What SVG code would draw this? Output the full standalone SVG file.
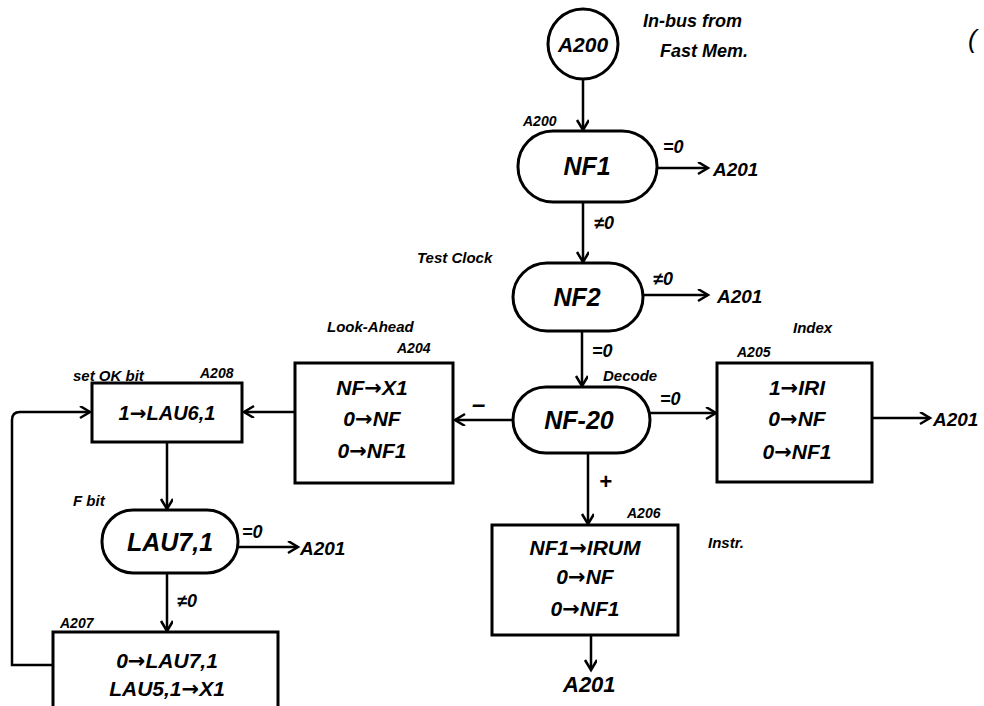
<svg xmlns="http://www.w3.org/2000/svg" width="984" height="706" viewBox="0 0 984 706">
<defs>
<marker id="ah" markerWidth="14" markerHeight="14" refX="11" refY="6" orient="auto" markerUnits="userSpaceOnUse">
<path d="M1,0 L11,6 L1,12" fill="none" stroke="#000" stroke-width="2.5"/>
</marker>
<style>
.shape{fill:#fff;stroke:#000;stroke-width:3}
.ln{fill:none;stroke:#000;stroke-width:2.5;marker-end:url(#ah)}
text{font-family:"Liberation Sans","DejaVu Sans",sans-serif;font-style:italic;font-weight:bold;fill:#000}
.ar{font-family:"DejaVu Sans",sans-serif;font-style:normal;font-weight:bold}
.big{font-size:25px;text-anchor:middle}
.mid{font-size:21px;text-anchor:middle}
.tgt{font-size:19px}
.sm{font-size:14px}
.note{font-size:15px}
.cond{font-size:18px}
</style>
</defs>

<rect width="984" height="706" fill="#fff"/>

<g id="connectors">
<line class="ln" x1="583" y1="80" x2="583" y2="130"/>
<line class="ln" x1="657" y1="168" x2="708" y2="168"/>
<line class="ln" x1="583" y1="202" x2="583" y2="262"/>
<line class="ln" x1="643" y1="295" x2="708" y2="295"/>
<line class="ln" x1="582" y1="331" x2="582" y2="386"/>
<line class="ln" x1="650" y1="413" x2="716" y2="413"/>
<line class="ln" x1="872" y1="418" x2="930" y2="418"/>
<line class="ln" x1="513" y1="420" x2="455" y2="420"/>
<line class="ln" x1="588" y1="453" x2="588" y2="524"/>
<line class="ln" x1="591" y1="635" x2="591" y2="670"/>
<line class="ln" x1="295" y1="412" x2="244" y2="412"/>
<line class="ln" x1="167" y1="442" x2="167" y2="509"/>
<line class="ln" x1="238" y1="547" x2="298" y2="547"/>
<line class="ln" x1="167" y1="573" x2="167" y2="631"/>
<path class="ln" d="M53,665 L12,665 L12,420 Q12,412 20,412 L90,412"/>
</g>

<g id="A200">
<circle class="shape" cx="583" cy="44" r="35"/>
<text class="mid" x="583" y="52">A200</text>
</g>
<text x="643" y="27" style="font-size:18px">In-bus from</text>
<text x="660" y="57" style="font-size:18px">Fast Mem.</text>
<text x="968" y="48" style="font-size:26px;font-weight:normal">(</text>

<text class="sm" x="523" y="126">A200</text>
<g id="NF1">
<rect class="shape" x="518" y="131" width="139" height="71" rx="35"/>
<text class="big" x="587" y="175">NF1</text>
</g>
<text class="cond" x="663" y="153">=0</text>
<text class="tgt" x="713" y="176">A201</text>
<text class="cond" x="594" y="229">≠0</text>

<text class="note" x="417" y="263">Test Clock</text>
<g id="NF2">
<rect class="shape" x="513" y="263" width="130" height="68" rx="34"/>
<text class="big" x="577" y="306">NF2</text>
</g>
<text class="cond" x="653" y="285">≠0</text>
<text class="tgt" x="717" y="303">A201</text>
<text class="cond" x="592" y="357">=0</text>
<text class="note" x="603" y="381">Decode</text>

<g id="NF-20">
<rect class="shape" x="513" y="387" width="137" height="66" rx="33"/>
<text class="big" x="579" y="429">NF-20</text>
</g>
<text class="cond" x="660" y="405">=0</text>
<text x="472" y="412" style="font-size:24px">–</text>
<text x="599" y="489" style="font-size:22px">+</text>

<text class="note" x="793" y="333">Index</text>
<text class="sm" x="737" y="357">A205</text>
<g id="A205">
<rect class="shape" x="717" y="363" width="155" height="119"/>
<text class="mid" x="797" y="395">1<tspan class="ar">→</tspan>IRI</text>
<text class="mid" x="797" y="426">0<tspan class="ar">→</tspan>NF</text>
<text class="mid" x="797" y="459">0<tspan class="ar">→</tspan>NF1</text>
</g>
<text class="tgt" x="933" y="426">A201</text>

<text class="note" x="327" y="332">Look-Ahead</text>
<text class="sm" x="397" y="353">A204</text>
<g id="A204">
<rect class="shape" x="295" y="363" width="158" height="120"/>
<text class="mid" x="372" y="395">NF<tspan class="ar">→</tspan>X1</text>
<text class="mid" x="372" y="426">0<tspan class="ar">→</tspan>NF</text>
<text class="mid" x="372" y="458">0<tspan class="ar">→</tspan>NF1</text>
</g>

<text class="note" x="73" y="381">set OK bit</text>
<text class="sm" x="200" y="378">A208</text>
<g id="A208">
<rect class="shape" x="92" y="383" width="150" height="59"/>
<text class="mid" x="167" y="420" style="font-size:20px">1<tspan class="ar">→</tspan>LAU6,1</text>
</g>

<text class="note" x="73" y="506">F bit</text>
<g id="LAU7_1">
<rect class="shape" x="102" y="510" width="136" height="63" rx="31"/>
<text class="big" x="170" y="551">LAU7,1</text>
</g>
<text class="cond" x="242" y="538">=0</text>
<text class="tgt" x="300" y="555">A201</text>
<text class="cond" x="177" y="607">≠0</text>

<text class="sm" x="60" y="628">A207</text>
<g id="A207">
<rect class="shape" x="53" y="632" width="225" height="90"/>
<text class="mid" x="167" y="668">0<tspan class="ar">→</tspan>LAU7,1</text>
<text class="mid" x="167" y="696">LAU5,1<tspan class="ar">→</tspan>X1</text>
</g>

<text class="sm" x="627" y="518">A206</text>
<text class="note" x="708" y="548">Instr.</text>
<g id="A206">
<rect class="shape" x="492" y="525" width="186" height="110"/>
<text class="mid" x="585" y="555">NF1<tspan class="ar">→</tspan>IRUM</text>
<text class="mid" x="585" y="584">0<tspan class="ar">→</tspan>NF</text>
<text class="mid" x="585" y="616">0<tspan class="ar">→</tspan>NF1</text>
</g>
<text class="tgt" x="563" y="692" style="font-size:22px">A201</text>
</svg>
